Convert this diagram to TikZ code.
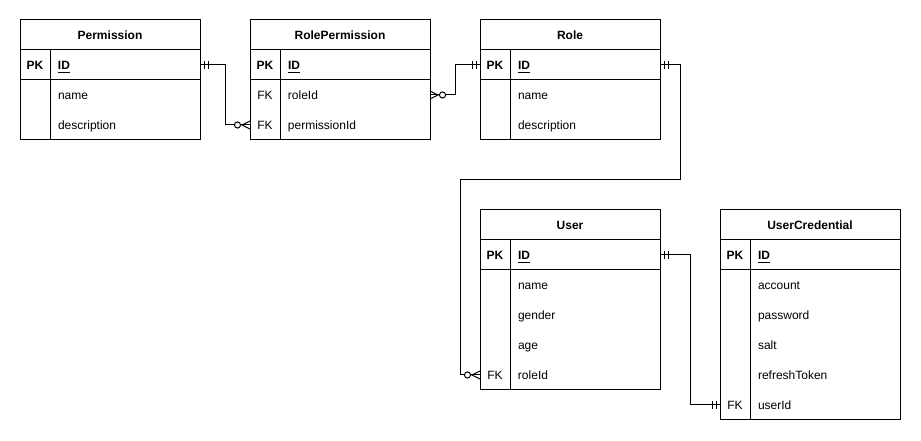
\documentclass[tikz,border=0pt]{standalone}
\usepackage{fontspec}
\setmainfont{Liberation Sans}
\usetikzlibrary{positioning,decorations.markings}

\newcommand{\keycol}[2]{\makebox[22.5pt][c]{#1}\hspace{6pt}#2\rule[-3.3pt]{0pt}{14pt}}

\begin{document}
\begin{tikzpicture}[x=0.75pt,y=-0.75pt,line width=0.75pt,
   font=\fontsize{9}{11}\selectfont,
   hdr/.style={draw,minimum width=135pt,minimum height=22.5pt,inner sep=0pt,outer sep=0pt,font=\fontsize{9}{11}\selectfont\bfseries},
   keyrow/.style={draw,text width=135pt,minimum height=22.5pt,align=left,inner sep=0pt,outer sep=0pt},
   fieldrow/.style={keyrow,draw=none},
   one start/.style={postaction={decorate,decoration={markings,
      mark=at position 3pt with {\draw (0,-3pt)--(0,3pt);},
      mark=at position 6pt with {\draw (0,-3pt)--(0,3pt);}}}},
   one end/.style={postaction={decorate,decoration={markings,
      mark=at position -3pt with {\draw (0,-3pt)--(0,3pt);},
      mark=at position -6pt with {\draw (0,-3pt)--(0,3pt);}}}},
   many start/.style={postaction={decorate,decoration={markings,
      mark=at position 6pt with {\draw (-6pt,3pt)--(0,0)--(-6pt,-3pt);
         \draw[fill=white] (3.4pt,0) circle (2.3pt);}}}},
   many end/.style={postaction={decorate,decoration={markings,
      mark=at position -6pt with {\draw (6pt,3pt)--(0,0)--(6pt,-3pt);
         \draw[fill=white] (-3.4pt,0) circle (2.3pt);}}}}]
  \useasboundingbox (0,0) rectangle (921,441);

  % Permission
  \node[hdr] (perm) at (110,35) {Permission};
  \node[keyrow,below=0pt of perm] (perm-id) {\keycol{\textbf{PK}}{\textbf{\underline{ID}}}};
  \node[fieldrow,below=0pt of perm-id] (perm-name) {\keycol{}{name}};
  \node[fieldrow,below=0pt of perm-name] (perm-desc) {\keycol{}{description}};
  \draw (perm.north west) rectangle (perm-desc.south east);
  \draw ([xshift=22.5pt]perm-id.north west) -- ([xshift=22.5pt]perm-desc.south west);

  % RolePermission
  \node[hdr] (rp) at (340,35) {RolePermission};
  \node[keyrow,below=0pt of rp] (rp-id) {\keycol{\textbf{PK}}{\textbf{\underline{ID}}}};
  \node[fieldrow,below=0pt of rp-id] (rp-rid) {\keycol{FK}{roleId}};
  \node[fieldrow,below=0pt of rp-rid] (rp-pid) {\keycol{FK}{permissionId}};
  \draw (rp.north west) rectangle (rp-pid.south east);
  \draw ([xshift=22.5pt]rp-id.north west) -- ([xshift=22.5pt]rp-pid.south west);

  % Role
  \node[hdr] (role) at (570,35) {Role};
  \node[keyrow,below=0pt of role] (role-id) {\keycol{\textbf{PK}}{\textbf{\underline{ID}}}};
  \node[fieldrow,below=0pt of role-id] (role-name) {\keycol{}{name}};
  \node[fieldrow,below=0pt of role-name] (role-desc) {\keycol{}{description}};
  \draw (role.north west) rectangle (role-desc.south east);
  \draw ([xshift=22.5pt]role-id.north west) -- ([xshift=22.5pt]role-desc.south west);

  % User
  \node[hdr] (user) at (570,225) {User};
  \node[keyrow,below=0pt of user] (user-id) {\keycol{\textbf{PK}}{\textbf{\underline{ID}}}};
  \node[fieldrow,below=0pt of user-id] (user-name) {\keycol{}{name}};
  \node[fieldrow,below=0pt of user-name] (user-gender) {\keycol{}{gender}};
  \node[fieldrow,below=0pt of user-gender] (user-age) {\keycol{}{age}};
  \node[fieldrow,below=0pt of user-age] (user-rid) {\keycol{FK}{roleId}};
  \draw (user.north west) rectangle (user-rid.south east);
  \draw ([xshift=22.5pt]user-id.north west) -- ([xshift=22.5pt]user-rid.south west);

  % UserCredential
  \node[hdr] (cred) at (810,225) {UserCredential};
  \node[keyrow,below=0pt of cred] (cred-id) {\keycol{\textbf{PK}}{\textbf{\underline{ID}}}};
  \node[fieldrow,below=0pt of cred-id] (cred-acc) {\keycol{}{account}};
  \node[fieldrow,below=0pt of cred-acc] (cred-pw) {\keycol{}{password}};
  \node[fieldrow,below=0pt of cred-pw] (cred-salt) {\keycol{}{salt}};
  \node[fieldrow,below=0pt of cred-salt] (cred-tok) {\keycol{}{refreshToken}};
  \node[fieldrow,below=0pt of cred-tok] (cred-uid) {\keycol{FK}{userId}};
  \draw (cred.north west) rectangle (cred-uid.south east);
  \draw ([xshift=22.5pt]cred-id.north west) -- ([xshift=22.5pt]cred-uid.south west);

  % relations
  \draw[one start,many end] (perm-id.east) -- ++(25,0) |- (rp-pid.west);
  \draw[many start,one end] (rp-rid.east) -- ++(25,0) |- (role-id.west);
  \draw[one start,many end] (role-id.east) -- ++(20,0) -- ++(0,115)
     -| ([xshift=-15pt]user-rid.west) -- (user-rid.west);
  \draw[one start,one end] (user-id.east) -- ++(30,0) |- (cred-uid.west);
\end{tikzpicture}
\end{document}
